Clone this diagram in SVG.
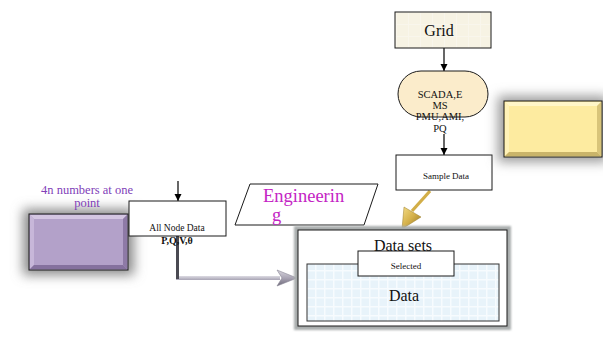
<svg xmlns="http://www.w3.org/2000/svg" width="603" height="337" viewBox="0 0 603 337">
  <defs>
    <style>
      .serif { font-family: "Liberation Serif", "Times New Roman", serif; }
      .box { stroke: #1a1a1a; stroke-width: 1; }
      .conn { stroke: #000; stroke-width: 1.2; fill: none; }
    </style>
    <marker id="arrowBlack" viewBox="0 0 10 10" refX="10" refY="5" markerWidth="7" markerHeight="10" markerUnits="userSpaceOnUse" orient="auto">
      <path d="M0,0 L10,5 L0,10 Z" fill="#000"/>
    </marker>
    <filter id="glow" x="-40%" y="-60%" width="180%" height="220%">
      <feGaussianBlur stdDeviation="6"/>
    </filter>
    <filter id="soft" x="-10%" y="-10%" width="120%" height="120%">
      <feGaussianBlur stdDeviation="1.2"/>
    </filter>
    <pattern id="gridCream" width="12" height="12" patternUnits="userSpaceOnUse">
      <rect width="12" height="12" fill="#f7f3e4"/>
      <path d="M0,0.5 H12 M0.5,0 V12" stroke="#f9f6ec" stroke-width="1"/>
    </pattern>
    <pattern id="gridBlue" width="9" height="9" patternUnits="userSpaceOnUse">
      <rect width="9" height="9" fill="#e8f3fa"/>
      <path d="M0,0.75 H9 M0.75,0 V9" stroke="#f7fbfe" stroke-width="1.5"/>
    </pattern>
    <linearGradient id="goldGrad" x1="0" y1="0" x2="1" y2="1">
      <stop offset="0" stop-color="#f3dc86"/>
      <stop offset="0.5" stop-color="#d4b04a"/>
      <stop offset="1" stop-color="#8e7020"/>
    </linearGradient>
    <linearGradient id="greyHead" x1="0" y1="0" x2="0" y2="1">
      <stop offset="0" stop-color="#d8d6de"/>
      <stop offset="0.5" stop-color="#a9a4b4"/>
      <stop offset="1" stop-color="#6f6a7a"/>
    </linearGradient>
    <linearGradient id="greyBar" x1="0" y1="0" x2="0" y2="1">
      <stop offset="0" stop-color="#dcdae2"/>
      <stop offset="1" stop-color="#a8a4b4"/>
    </linearGradient>
  </defs>

  <!-- connectors -->
  <g id="connectors">
    <line class="conn" x1="444" y1="48" x2="444" y2="71" marker-end="url(#arrowBlack)"/>
    <line class="conn" x1="444" y1="134" x2="444" y2="155" marker-end="url(#arrowBlack)"/>
    <line class="conn" x1="178" y1="181" x2="178" y2="201" marker-end="url(#arrowBlack)"/>
    <!-- grey elbow from All Node Data into the data sets -->
    <rect x="176" y="276" width="104" height="4" fill="url(#greyBar)"/>
    <rect x="176" y="236" width="3" height="43" fill="#4a4a52"/>
    <polygon points="277,270 297,278 277,286 282,278" fill="url(#greyHead)" stroke="#8a8696" stroke-width="0.6"/>
    <!-- gold arrow from Sample Data -->
    <line x1="430" y1="191" x2="412" y2="211" stroke="#d2ae48" stroke-width="3.2"/>
    <polygon points="404,207 421,217 402,229" fill="url(#goldGrad)" stroke="#9a7c28" stroke-width="0.5"/>
  </g>

  <!-- Grid -->
  <g id="grid">
    <rect class="box" x="395" y="12" width="96" height="36" fill="url(#gridCream)"/>
    <text class="serif" x="439" y="36" font-size="16" text-anchor="middle" fill="#111">Grid</text>
  </g>

  <!-- SCADA/EMS/PMU/AMI/PQ -->
  <g id="sources">
    <rect class="box" x="398" y="71" width="90" height="46" rx="23" ry="23" fill="#fbeccb"/>
    <g class="serif" font-size="10.5" text-anchor="middle" fill="#111">
      <text x="440" y="98">SCADA,E</text>
      <text x="440" y="109">MS</text>
      <text x="440" y="120">PMU,AMI,</text>
      <text x="440" y="132">PQ</text>
    </g>
  </g>

  <!-- Sample Data -->
  <g id="sample-data">
    <rect class="box" x="396" y="155" width="96" height="35" fill="#fff"/>
    <text class="serif" x="446" y="179" font-size="9" text-anchor="middle" fill="#111">Sample Data</text>
  </g>

  <!-- yellow block -->
  <g id="yellow-block">
    <rect x="498" y="96" width="110" height="66" fill="#9a9a9a" filter="url(#glow)"/>
    <rect x="504" y="101" width="98" height="56" fill="#fdeba0" stroke="#1a1a1a"/>
    <polygon points="505,102 601,102 597,106 509,106" fill="#fff6c8"/>
    <polygon points="505,102 509,106 509,152 505,156" fill="#fff2b8"/>
    <polygon points="601,102 601,156 597,152 597,106" fill="#d8c47a"/>
    <polygon points="505,156 601,156 597,152 509,152" fill="#c9b46a"/>
  </g>

  <!-- purple block -->
  <g id="purple-block">
    <rect x="23" y="209" width="111" height="66" fill="#8a8a8a" filter="url(#glow)"/>
    <rect x="29" y="214" width="99" height="56" fill="#b3a1c9" stroke="#1a1a1a"/>
    <polygon points="30,215 127,215 123,219 34,219" fill="#d4c6e2"/>
    <polygon points="30,215 34,219 34,265 30,269" fill="#c7b7d9"/>
    <polygon points="127,215 127,269 123,265 123,219" fill="#8e7aa6"/>
    <polygon points="30,269 127,269 123,265 34,265" fill="#85719e"/>
    <text class="serif" x="87" y="194" font-size="12.5" text-anchor="middle" fill="#8040b8">4n numbers at one</text>
    <text class="serif" x="87" y="207" font-size="12.5" text-anchor="middle" fill="#8040b8">point</text>
  </g>

  <!-- All Node Data -->
  <g id="all-node-data">
    <rect class="box" x="129" y="201" width="97" height="35" fill="#fff"/>
    <text class="serif" x="177" y="231" font-size="9.5" text-anchor="middle" fill="#111">All Node Data</text>
    <text class="serif" x="177" y="244" font-size="10" font-weight="bold" text-anchor="middle" fill="#111">P,Q,V,θ</text>
  </g>

  <!-- Engineering -->
  <g id="engineering">
    <polygon points="250,184 378,184 364,225 235,225" fill="#fff" stroke="#1a1a1a"/>
    <text class="serif" x="263" y="202" font-size="18.5" fill="#c424c4">Engineerin</text>
    <text class="serif" x="272" y="221" font-size="18.5" fill="#c424c4">g</text>
  </g>

  <!-- Data sets container -->
  <g id="data-sets">
    <rect x="294" y="226" width="217" height="104" fill="#a9adad" filter="url(#soft)"/>
    <rect class="box" x="298" y="230" width="209" height="96" fill="#fff" stroke-width="1.5"/>
    <text class="serif" x="403" y="251" font-size="16" text-anchor="middle" fill="#111">Data sets</text>
  </g>

  <!-- Data -->
  <g id="data">
    <rect x="307" y="264" width="192" height="57" fill="url(#gridBlue)" stroke="#333" stroke-width="1"/>
    <text class="serif" x="404" y="301" font-size="16" text-anchor="middle" fill="#111">Data</text>
  </g>

  <!-- Selected -->
  <g id="selected">
    <rect class="box" x="358" y="251" width="96" height="25" fill="#fff"/>
    <text class="serif" x="406" y="269" font-size="9" text-anchor="middle" fill="#111">Selected</text>
  </g>
</svg>
